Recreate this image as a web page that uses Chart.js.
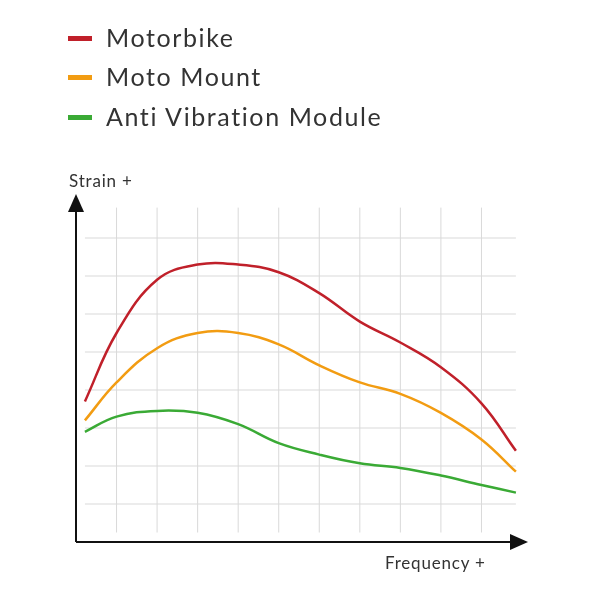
<!DOCTYPE html>
<html>
<head>
<meta charset="utf-8">
<script src="https://cdn.jsdelivr.net/npm/chart.js@4"></script>
<style>
  body { margin: 0; background: #fff; font-family: Lato, "Open Sans", sans-serif; }
  #wrap { position: relative; width: 590px; height: 590px; }
  .legend { position: absolute; left: 68px; font-size: 25px; color: #333; letter-spacing: 1.6px; }
  .legend span { display: inline-block; width: 24px; height: 5px; margin-right: 14px; vertical-align: middle; position: relative; top: -2px; }
  .lbl { position: absolute; font-size: 17px; color: #333; letter-spacing: 0.8px; }
</style>
</head>
<body>
<div id="wrap">
  <canvas id="chart" width="590" height="590"></canvas>
  <div class="legend" style="top:22px"><span style="background:#c0202a"></span>Motorbike</div>
  <div class="legend" style="top:61px"><span style="background:#f29c12"></span>Moto Mount</div>
  <div class="legend" style="top:101px"><span style="background:#3aaa35"></span>Anti Vibration Module</div>
  <div class="lbl" style="left:69px;top:170px">Strain +</div>
  <div class="lbl" style="left:385px;top:552px">Frequency +</div>
</div>
<script>
// Werte
const frequency = [0.22, 1, 2, 3, 4, 5, 6, 7, 8, 9, 10, 10.85];
const motorbike = [3.7, 5.5, 6.9, 7.3, 7.3, 7.1, 6.55, 5.8, 5.25, 4.6, 3.65, 2.4];
const motoMount = [3.2, 4.2, 5.1, 5.5, 5.5, 5.2, 4.65, 4.2, 3.9, 3.4, 2.7, 1.85];
const antiVibration = [2.9, 3.3, 3.45, 3.4, 3.1, 2.6, 2.3, 2.07, 1.95, 1.75, 1.5, 1.3];
const gridX = [1, 2, 3, 4, 5, 6, 7, 8, 9, 10];
const gridY = [1, 2, 3, 4, 5, 6, 7, 8];

function toPoints(values) {
    return values.map((v, i) => ({ x: frequency[i], y: v }));
}

// Gitter und Achsenpfeile
const axesPlugin = {
    id: 'axesPlugin',
    beforeDatasetsDraw(chart) {
        const ctx = chart.ctx;
        const xs = chart.scales.x, ys = chart.scales.y;
        ctx.save();
        ctx.strokeStyle = '#d9d9d9';
        ctx.lineWidth = 1;
        gridX.forEach(v => {
            const px = xs.getPixelForValue(v);
            ctx.beginPath();
            ctx.moveTo(px, ys.getPixelForValue(8.8));
            ctx.lineTo(px, ys.getPixelForValue(0.25));
            ctx.stroke();
        });
        gridY.forEach(v => {
            const py = ys.getPixelForValue(v);
            ctx.beginPath();
            ctx.moveTo(xs.getPixelForValue(0.22), py);
            ctx.lineTo(xs.getPixelForValue(10.85), py);
            ctx.stroke();
        });
        const x0 = xs.getPixelForValue(0), y0 = ys.getPixelForValue(0);
        const xEnd = xs.getPixelForValue(11), yEnd = ys.getPixelForValue(9);
        ctx.strokeStyle = '#111';
        ctx.fillStyle = '#111';
        ctx.lineWidth = 2;
        ctx.beginPath();
        ctx.moveTo(x0, y0);
        ctx.lineTo(x0, yEnd + 10);
        ctx.moveTo(x0, y0);
        ctx.lineTo(xEnd - 10, y0);
        ctx.stroke();
        ctx.beginPath();
        ctx.moveTo(x0, yEnd - 6);
        ctx.lineTo(x0 - 8, yEnd + 12);
        ctx.lineTo(x0 + 8, yEnd + 12);
        ctx.fill();
        ctx.beginPath();
        ctx.moveTo(xEnd + 6, y0);
        ctx.lineTo(xEnd - 12, y0 - 8);
        ctx.lineTo(xEnd - 12, y0 + 8);
        ctx.fill();
        ctx.restore();
    }
};

new Chart(document.getElementById('chart'), {
    type: 'line',
    data: {
        datasets: [
            { label: 'Motorbike', data: toPoints(motorbike), borderColor: '#c0202a' },
            { label: 'Moto Mount', data: toPoints(motoMount), borderColor: '#f29c12' },
            { label: 'Anti Vibration Module', data: toPoints(antiVibration), borderColor: '#3aaa35' }
        ]
    },
    options: {
        responsive: false,
        animation: false,
        layout: { padding: { left: 76, right: 68, top: 200, bottom: 48 } },
        elements: {
            line: { borderWidth: 2.5, tension: 0.4 },
            point: { radius: 0 }
        },
        plugins: { legend: { display: false }, tooltip: { enabled: false } },
        scales: {
            x: { type: 'linear', min: 0, max: 11, display: false },
            y: { min: 0, max: 9, display: false }
        }
    },
    plugins: [axesPlugin]
});
</script>
</body>
</html>
